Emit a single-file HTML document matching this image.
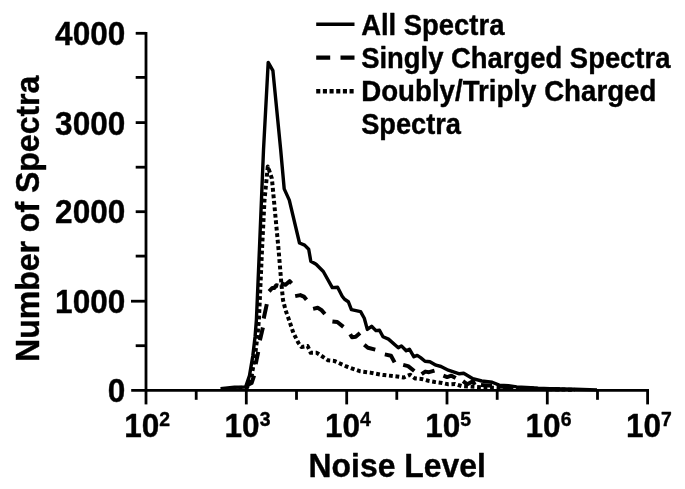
<!DOCTYPE html>
<html><head><meta charset="utf-8"><title>Noise Level</title>
<style>
html,body{margin:0;padding:0;background:#fff;}
body{width:685px;height:489px;overflow:hidden;}
svg{display:block;}
text{font-family:"Liberation Sans",Arial,Helvetica,sans-serif;font-weight:bold;fill:#000;stroke:#000;stroke-width:0.4px;stroke-linejoin:round;}
.ax{stroke:#000;stroke-width:2.8;fill:none;stroke-linecap:butt;}
</style></head><body>
<svg width="685" height="489" viewBox="0 0 685 489">
<rect width="685" height="489" fill="#fff"/>

<g class="ax">
<line x1="146.0" y1="31.9" x2="146.0" y2="390.3"/>
<line x1="131.2" y1="390.3" x2="649.0" y2="390.3"/>
<line x1="135.7" y1="33.3" x2="146.0" y2="33.3"/>
<line x1="135.7" y1="77.4" x2="146.0" y2="77.4"/>
<line x1="135.7" y1="122.6" x2="146.0" y2="122.6"/>
<line x1="135.7" y1="167.2" x2="146.0" y2="167.2"/>
<line x1="135.7" y1="211.7" x2="146.0" y2="211.7"/>
<line x1="135.7" y1="256.1" x2="146.0" y2="256.1"/>
<line x1="131.0" y1="301.2" x2="146.0" y2="301.2"/>
<line x1="135.7" y1="345.7" x2="146.0" y2="345.7"/>
<line x1="146.0" y1="390.3" x2="146.0" y2="404.4"/>
<line x1="196.2" y1="390.3" x2="196.2" y2="399.8"/>
<line x1="246.3" y1="390.3" x2="246.3" y2="404.4"/>
<line x1="296.5" y1="390.3" x2="296.5" y2="399.8"/>
<line x1="346.7" y1="390.3" x2="346.7" y2="404.4"/>
<line x1="396.8" y1="390.3" x2="396.8" y2="399.8"/>
<line x1="447.0" y1="390.3" x2="447.0" y2="404.4"/>
<line x1="497.2" y1="390.3" x2="497.2" y2="399.8"/>
<line x1="547.3" y1="390.3" x2="547.3" y2="404.4"/>
<line x1="597.5" y1="390.3" x2="597.5" y2="399.8"/>
<line x1="647.6" y1="390.3" x2="647.6" y2="404.4"/>
</g>
<polyline points="220.5,388.6 234.5,387.3 245.6,387.1 249.5,375.6 252.8,356.0 255.1,336.4 256.4,320.0 259.4,250.0 263.5,150.0 268.2,62.4 272.9,70.6 280.7,150.0 284.2,188.9 289.3,200.1 299.5,243.0 304.6,245.1 308.7,249.2 310.8,261.2 316.1,264.3 323.3,271.5 332.3,287.6 337.6,287.2 342.2,296.2 344.6,299.3 348.3,301.7 351.4,309.7 360.6,311.6 364.3,318.3 367.3,329.4 371.6,326.3 375.9,330.6 379.5,330.3 383.0,336.7 388.5,339.1 398.3,347.7 401.4,345.9 406.2,350.8 409.4,349.2 413.9,356.8 417.2,355.4 420.6,357.6 425.0,361.2 429.9,361.7 436.0,365.2 441.0,366.5 448.3,370.2 459.4,373.8 463.7,373.2 472.9,378.7 481.7,381.0 492.2,382.2 499.2,385.1 508.5,385.8 516.7,386.9 530.7,387.6 537.8,388.3 550.0,388.7 575.0,389.3 597.0,389.9" fill="none" stroke="#000" stroke-width="3.4" stroke-linejoin="round"/>
<polyline points="232.0,388.3 247.2,387.3 251.7,375.6 255.0,356.0 257.4,336.4 258.9,320.0 262.0,250.0 264.5,200.0 267.8,166.4 271.9,178.6 278.6,250.0 281.3,282.7 283.0,300.0 285.5,310.0 289.2,320.4 293.3,332.7 298.4,342.9 301.5,347.0 307.6,346.0 310.7,352.8 316.8,352.8 328.1,360.3 334.2,360.9 346.5,366.5 359.8,371.2 370.0,372.6 380.0,374.6 384.2,375.1 397.1,376.5 403.8,377.5 410.0,374.7 414.9,378.4 421.6,379.0 428.4,380.8 435.0,382.0 442.2,383.0 448.3,384.3 455.0,384.0 461.8,386.1 482.0,387.3 520.0,388.5 550.0,389.2 575.0,389.8" fill="none" stroke="#000" stroke-width="4" stroke-dasharray="3.8 2.7" stroke-linejoin="round"/>
<g fill="none" stroke="#000" stroke-width="4" stroke-linejoin="round">
<polyline points="246.7,385.5 251.6,383.0 254.1,375.6"/>
<polyline points="255.7,364.2 258.2,351.9"/>
<polyline points="259.9,340.3 262.9,327.5"/>
<polyline points="263.7,318.5 266.8,304.2"/>
<polyline points="269.1,291.4 272.2,288.0 274.3,288.0 276.3,285.3 278.3,285.8"/>
<polyline points="280.9,283.2 285.5,284.8 289.6,281.2 291.6,283.3"/>
<polyline points="295.2,296.1 300.3,295.1 303.9,296.6 306.5,299.7"/>
<polyline points="313.1,308.9 317.7,307.8 321.3,309.9 324.9,314.0"/>
<polyline points="332.4,321.4 337.3,322.0 343.4,326.9"/>
<polyline points="350.2,334.3 352.0,337.3 355.7,336.7 360.0,333.0"/>
<polyline points="364.3,344.7 367.9,347.8 375.3,349.6"/>
<polyline points="384.8,354.4 391.0,355.7 394.6,362.4"/>
<polyline points="403.2,364.9 408.1,366.1 414.3,371.0"/>
<polyline points="421.6,374.1 425.3,371.6 429.0,372.2 434.5,370.6"/>
<polyline points="443.4,375.7 447.1,377.1 451.4,375.7 455.7,378.1"/>
<polyline points="463.0,381.2 467.3,384.3 472.9,381.2 474.7,384.9"/>
<polyline points="481.0,385.0 492.0,385.8"/>
<polyline points="499.0,386.6 511.0,387.4"/>
<polyline points="520.0,388.0 534.0,388.4"/>
<polyline points="545.0,388.9 560.0,389.3"/>
</g>
<line x1="316.2" y1="24.3" x2="354.5" y2="24.3" stroke="#000" stroke-width="3.4"/>
<line x1="316.2" y1="57.6" x2="354.5" y2="57.6" stroke="#000" stroke-width="4.2" stroke-dasharray="14 10.3"/>
<line x1="316.2" y1="91.2" x2="354.5" y2="91.2" stroke="#000" stroke-width="4.4" stroke-dasharray="4.1 2.57"/>
<text transform="translate(361.2,35.0) scale(0.952,1)" font-size="28.8" text-anchor="start">All Spectra</text>
<text transform="translate(361.2,68.1) scale(0.952,1)" font-size="28.8" text-anchor="start">Singly Charged Spectra</text>
<text transform="translate(361.2,100.8) scale(0.961,1)" font-size="28.8" text-anchor="start">Doubly/Triply Charged</text>
<text transform="translate(361.2,134.1) scale(0.945,1)" font-size="28.8" text-anchor="start">Spectra</text>
<text transform="translate(125.3,401.9) scale(0.931,1)" font-size="33.9" text-anchor="end">0</text>
<text transform="translate(125.3,313.1) scale(0.931,1)" font-size="33.9" text-anchor="end">1000</text>
<text transform="translate(125.3,223.3) scale(0.931,1)" font-size="33.9" text-anchor="end">2000</text>
<text transform="translate(125.3,134.8) scale(0.931,1)" font-size="33.9" text-anchor="end">3000</text>
<text transform="translate(125.3,44.5) scale(0.931,1)" font-size="33.9" text-anchor="end">4000</text>
<text transform="translate(147.2,436.5) scale(0.931,1)" font-size="33.9" text-anchor="middle">10<tspan font-size="20.8485" dy="-10.1">2</tspan></text>
<text transform="translate(247.5,436.5) scale(0.931,1)" font-size="33.9" text-anchor="middle">10<tspan font-size="20.8485" dy="-10.1">3</tspan></text>
<text transform="translate(347.9,436.5) scale(0.931,1)" font-size="33.9" text-anchor="middle">10<tspan font-size="20.8485" dy="-10.1">4</tspan></text>
<text transform="translate(448.2,436.5) scale(0.931,1)" font-size="33.9" text-anchor="middle">10<tspan font-size="20.8485" dy="-10.1">5</tspan></text>
<text transform="translate(548.5,436.5) scale(0.931,1)" font-size="33.9" text-anchor="middle">10<tspan font-size="20.8485" dy="-10.1">6</tspan></text>
<text transform="translate(648.9,436.5) scale(0.931,1)" font-size="33.9" text-anchor="middle">10<tspan font-size="20.8485" dy="-10.1">7</tspan></text>
<text transform="translate(397.2,476.5) scale(0.949,1)" font-size="33.6" text-anchor="middle">Noise Level</text>
<text transform="translate(38.6,218.8) rotate(-90) scale(0.953,1)" font-size="33.6" text-anchor="middle">Number of Spectra</text>
</svg></body></html>
